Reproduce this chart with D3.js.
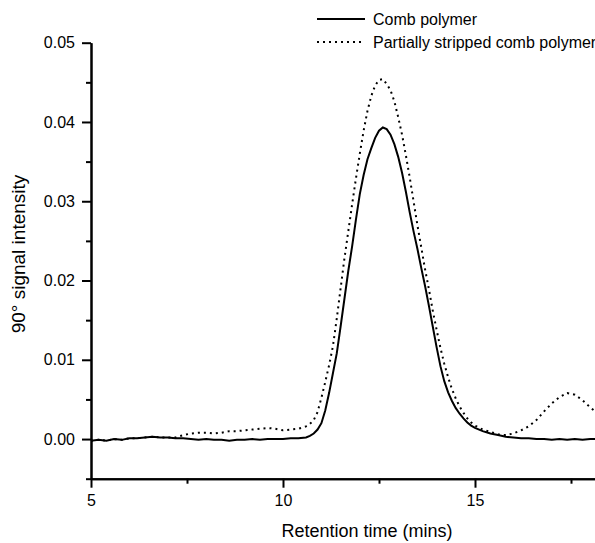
<!DOCTYPE html>
<html>
<head>
<meta charset="utf-8">
<script src="https://cdn.jsdelivr.net/npm/d3@7"></script>
<style>
  body { margin: 0; background: #fff; }
  svg { display: block; font-family: "Liberation Sans", Arial, sans-serif; }
</style>
</head>
<body>
<div id="chart"></div>
<script>
// retention time (mins), 90 deg signal
const combPolymer = [
  [5.0,-0.0002],[5.2,-0.0001],[5.4,-0.0002],[5.6,0.0000],[5.8,-0.0001],[6.0,0.0001],
  [6.2,0.0001],[6.4,0.0002],[6.6,0.0003],[6.8,0.0002],[7.0,0.0002],[7.2,0.0001],
  [7.4,0.0001],[7.6,0.0000],[7.8,-0.0001],[8.0,0.0000],[8.2,-0.0001],[8.4,-0.0001],
  [8.6,-0.0002],[8.8,-0.0001],[9.0,-0.0001],[9.2,0.0000],[9.4,-0.0001],[9.6,0.0000],
  [9.8,0.0000],[10.0,0.0000],[10.2,0.0001],[10.4,0.0001],[10.6,0.0002],[10.7,0.0004],
  [10.8,0.0007],[10.9,0.0012],[11.0,0.0020],[11.1,0.0036],[11.2,0.0058],[11.3,0.0083],
  [11.4,0.0108],[11.5,0.0142],[11.6,0.0177],[11.7,0.0212],[11.8,0.0243],[11.9,0.0277],
  [12.0,0.0309],[12.1,0.0333],[12.2,0.0353],[12.3,0.0367],[12.4,0.0380],[12.5,0.0389],
  [12.6,0.0393],[12.7,0.0391],[12.8,0.0384],[12.9,0.0372],[13.0,0.0356],[13.1,0.0336],
  [13.2,0.0312],[13.3,0.0286],[13.4,0.0262],[13.5,0.0240],[13.6,0.0216],[13.7,0.0193],
  [13.8,0.0168],[13.9,0.0142],[14.0,0.0116],[14.1,0.0092],[14.2,0.0073],[14.3,0.0059],
  [14.4,0.0048],[14.5,0.0039],[14.6,0.0032],[14.7,0.0026],[14.8,0.0021],[14.9,0.0017],
  [15.0,0.0014],[15.2,0.0010],[15.4,0.0007],[15.6,0.0005],[15.8,0.0003],[16.0,0.0002],
  [16.2,0.0001],[16.4,0.0001],[16.6,0.0000],[16.8,0.0000],[17.0,-0.0001],[17.2,0.0000],
  [17.4,-0.0001],[17.6,0.0000],[17.8,-0.0001],[18.0,0.0000],[18.2,0.0000]
];

const strippedPolymer = [
  [5.0,-0.0002],[5.2,-0.0001],[5.4,-0.0002],[5.6,0.0000],[5.8,-0.0001],[6.0,0.0001],
  [6.2,0.0001],[6.4,0.0002],[6.6,0.0003],[6.8,0.0002],[7.0,0.0002],[7.2,0.0002],
  [7.4,0.0005],[7.6,0.0007],[7.8,0.0008],[8.0,0.0008],[8.2,0.0007],[8.4,0.0008],
  [8.6,0.0010],[8.8,0.0010],[9.0,0.0011],[9.2,0.0012],[9.4,0.0013],[9.6,0.0014],
  [9.8,0.0013],[10.0,0.0011],[10.2,0.0012],[10.4,0.0013],[10.6,0.0016],[10.7,0.0019],
  [10.8,0.0024],[10.9,0.0034],[11.0,0.0052],[11.1,0.0072],[11.2,0.0093],[11.3,0.0117],
  [11.4,0.0152],[11.5,0.0190],[11.6,0.0228],[11.7,0.0262],[11.8,0.0296],[11.9,0.0329],
  [12.0,0.0360],[12.1,0.0389],[12.2,0.0414],[12.3,0.0433],[12.4,0.0446],[12.5,0.0453],
  [12.6,0.0454],[12.7,0.0448],[12.8,0.0440],[12.9,0.0426],[13.0,0.0406],[13.1,0.0384],
  [13.2,0.0358],[13.3,0.0330],[13.4,0.0300],[13.5,0.0270],[13.6,0.0242],[13.7,0.0214],
  [13.8,0.0189],[13.9,0.0162],[14.0,0.0138],[14.1,0.0115],[14.2,0.0095],[14.3,0.0078],
  [14.4,0.0063],[14.5,0.0051],[14.6,0.0041],[14.7,0.0033],[14.8,0.0026],[14.9,0.0021],
  [15.0,0.0017],[15.2,0.0012],[15.4,0.0009],[15.6,0.0006],[15.8,0.0005],[16.0,0.0007],
  [16.2,0.0011],[16.4,0.0016],[16.6,0.0024],[16.8,0.0035],[17.0,0.0045],[17.2,0.0053],
  [17.4,0.0058],[17.6,0.0056],[17.8,0.0049],[18.0,0.0040],[18.2,0.0032]
];

const seriesNames = ["Comb polymer", "Partially stripped comb polymer"];
const xMajorTicks = [5, 10, 15];
const xMinorTicks = [7.5, 12.5, 17.5];
const yMajorTicks = [0, 0.01, 0.02, 0.03, 0.04, 0.05];
const yMinorTicks = [-0.005, 0.005, 0.015, 0.025, 0.035, 0.045];

const width = 595, height = 543;
const margins = {top: 42.7, right: 0, bottom: 64.3, left: 91};

const svg = d3.select("#chart").append("svg")
  .attr("width", width).attr("height", height)
  .attr("viewBox", [0, 0, width, height]);

const xScale = d3.scaleLinear()
  .domain([5, 18.125])
  .range([margins.left, width - margins.right]);

const yScale = d3.scaleLinear()
  .domain([-0.005, 0.05])
  .range([height - margins.bottom, margins.top]);

svg.append("clipPath").attr("id", "plotclip")
  .append("rect")
  .attr("x", margins.left).attr("y", margins.top - 5)
  .attr("width", width - margins.left).attr("height", height - margins.bottom - margins.top + 5);

// curves
const line = d3.line()
  .x(d => xScale(d[0]))
  .y(d => yScale(d[1]));

const plot = svg.append("g").attr("clip-path", "url(#plotclip)");

plot.append("path")
  .datum(combPolymer)
  .attr("fill", "none")
  .attr("stroke", "#000")
  .attr("stroke-width", 2)
  .attr("d", line);

plot.append("path")
  .datum(strippedPolymer)
  .attr("fill", "none")
  .attr("stroke", "#000")
  .attr("stroke-width", 2)
  .attr("stroke-dasharray", "2,4")
  .attr("d", line);

// axes
const xAxis = d3.axisBottom(xScale).tickValues(xMajorTicks).tickSize(9).tickSizeOuter(0).tickPadding(7)
  .tickFormat(d3.format("d"));
const xMinor = d3.axisBottom(xScale).tickValues(xMinorTicks).tickSize(5).tickSizeOuter(0).tickFormat("");
const yAxis = d3.axisLeft(yScale).tickValues(yMajorTicks).tickSize(9).tickSizeOuter(0).tickPadding(7)
  .tickFormat(d3.format(".2f"));
const yMinor = d3.axisLeft(yScale).tickValues(yMinorTicks).tickSize(5).tickSizeOuter(0).tickFormat("");

svg.append("g")
  .attr("transform", `translate(0,${height - margins.bottom})`)
  .call(xAxis);
svg.append("g")
  .attr("transform", `translate(0,${height - margins.bottom})`)
  .call(xMinor);

svg.append("g")
  .attr("transform", `translate(${margins.left},0)`)
  .call(yAxis);
svg.append("g")
  .attr("transform", `translate(${margins.left},0)`)
  .call(yMinor);

svg.selectAll(".domain, .tick line")
  .attr("stroke", "#000")
  .attr("stroke-width", 2);
svg.selectAll(".tick text")
  .attr("fill", "#000")
  .style("font-size", "16px")
  .style("font-family", "'Liberation Sans', Arial, sans-serif");

// axis titles
svg.append("text")
  .attr("x", 367)
  .attr("y", 537)
  .attr("text-anchor", "middle")
  .style("font-size", "18px")
  .text("Retention time (mins)");

svg.append("text")
  .attr("transform", "translate(25,254) rotate(-90)")
  .attr("text-anchor", "middle")
  .style("font-size", "19px")
  .text("90° signal intensity");

// legend
const legend = svg.append("g");
seriesNames.forEach((name, i) => {
  const y = 19 + i * 23;
  legend.append("line")
    .attr("x1", 317).attr("x2", 365)
    .attr("y1", y).attr("y2", y)
    .attr("stroke", "#000")
    .attr("stroke-width", 2)
    .attr("stroke-dasharray", i === 0 ? null : "2,4");
  legend.append("text")
    .attr("x", 373)
    .attr("y", y + 6)
    .style("font-size", "16px")
    .text(name);
});
</script>
</body>
</html>
